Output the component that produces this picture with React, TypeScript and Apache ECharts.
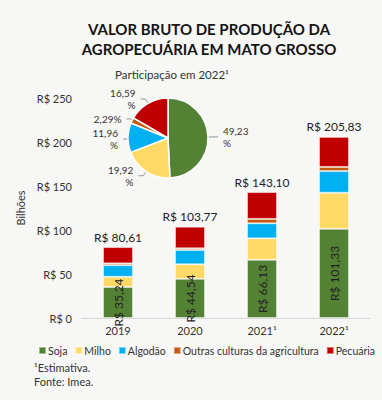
import React, { useEffect, useRef } from "react";
import * as echarts from "echarts";

const years = ["2019", "2020", "2021¹", "2022¹"];
const soja = [35.24, 44.54, 66.13, 101.33];
const milho = [11.6, 16.5, 24.4, 41.0];
const algodao = [13.2, 16.3, 17.1, 24.62];
const outras = [2.0, 1.9, 4.9, 4.71];
const pecuaria = [18.57, 24.53, 30.57, 34.17];
const totals = [80.61, 103.77, 143.1, 205.83];
const pieNames = ["Soja", "Milho", "Algodão", "Outras culturas da agricultura", "Pecuária"];
const pieShares = [49.23, 19.92, 11.96, 2.29, 16.59];
const colors = ["#548235", "#ffd966", "#00b0f0", "#c55a11", "#c00000"];
const yTicks = [0, 50, 100, 150, 200, 250];

const FONT = "Lato, 'Open Sans', sans-serif";
const fmt = (v: number) => v.toFixed(2).replace(".", ",");

export default function App() {
  const ref = useRef<HTMLDivElement>(null);
  useEffect(() => {
    const chart = echarts.init(ref.current!, null, { renderer: "svg" });
    const seriesData = [soja, milho, algodao, outras, pecuaria];
    const barSeries: any[] = seriesData.map((d, i) => ({
      name: pieNames[i],
      type: "bar",
      stack: "total",
      barWidth: 30,
      data: d,
      itemStyle: { color: colors[i], borderColor: "rgba(255,255,255,0.45)", borderWidth: 1 },
      label:
        i === 0
          ? {
              show: true,
              position: "inside",
              rotate: 90,
              fontSize: 12,
              fontFamily: FONT,
              color: "#222",
              formatter: (p: any) => "R$ " + fmt(p.value),
            }
          : i === 4
          ? {
              show: true,
              position: "top",
              distance: 4,
              fontSize: 12,
              fontFamily: FONT,
              color: "#222",
              formatter: (p: any) => "R$ " + fmt(totals[p.dataIndex]),
            }
          : { show: false },
    }));
    chart.setOption({
      animation: false,
      backgroundColor: "#f7f7f5",
      textStyle: { fontFamily: FONT },
      title: [
        {
          text: "VALOR BRUTO DE PRODUÇÃO DA\nAGROPECUÁRIA EM MATO GROSSO",
          left: 204,
          top: 14,
          textAlign: "center",
          textStyle: { fontSize: 15, fontWeight: "bold", color: "#141414", lineHeight: 20, fontFamily: FONT },
        },
        {
          text: "Participação em 2022¹",
          left: 167,
          top: 63,
          textAlign: "center",
          textStyle: { fontSize: 11.5, fontWeight: "normal", color: "#333", fontFamily: FONT },
        },
      ],
      grid: { left: 82, right: 12, top: 98, bottom: 82 },
      xAxis: {
        type: "category",
        data: years,
        axisLine: { lineStyle: { color: "#d9d9d9" } },
        axisTick: { show: false },
        axisLabel: { fontSize: 11, color: "#333", margin: 7, fontFamily: FONT },
      },
      yAxis: {
        type: "value",
        min: yTicks[0],
        max: yTicks[yTicks.length - 1],
        interval: 50,
        splitLine: { show: false },
        axisLine: { show: false },
        axisLabel: { fontSize: 11, color: "#333", margin: 10, formatter: "R$ {value}", fontFamily: FONT },
        name: "Bilhões",
        nameLocation: "middle",
        nameRotate: 90,
        nameGap: 55,
        nameTextStyle: { fontSize: 11, color: "#333", fontFamily: FONT },
      },
      legend: {
        data: pieNames,
        left: 38,
        top: 345,
        width: 344,
        padding: 0,
        icon: "rect",
        itemWidth: 7,
        itemHeight: 7,
        itemGap: 7,
        textStyle: { fontSize: 10.5, color: "#333", padding: [0, 0, 0, -3], fontFamily: FONT },
      },
      series: [
        ...barSeries,
        {
          type: "pie",
          center: [168, 138],
          radius: [0, 40],
          startAngle: 90,
          clockwise: true,
          itemStyle: { borderColor: "#ffffff", borderWidth: 1.5 },
          label: {
            show: true,
            fontSize: 10,
            color: "#333",
            fontFamily: FONT,
            lineHeight: 12,
            formatter: (p: any) => (p.dataIndex === 3 ? fmt(p.value) + "%" : fmt(p.value) + "\n%"),
          },
          labelLine: { show: true, length: 5, length2: 5, lineStyle: { color: "#999" } },
          data: pieNames.map((n, i) => ({ name: n, value: pieShares[i], itemStyle: { color: colors[i] } })),
          legendHoverLink: false,
          tooltip: { show: false },
        },
      ],
      graphic: [
        {
          type: "text",
          left: 34,
          top: 362,
          style: { text: "¹Estimativa.", fontSize: 11, fill: "#333", fontFamily: FONT },
        },
        {
          type: "text",
          left: 34,
          top: 376,
          style: { text: "Fonte: Imea.", fontSize: 11, fill: "#333", fontFamily: FONT },
        },
      ],
    });
    return () => chart.dispose();
  }, []);
  return <div ref={ref} style={{ width: 382, height: 400, position: "absolute", left: 0, top: 0 }} />;
}
